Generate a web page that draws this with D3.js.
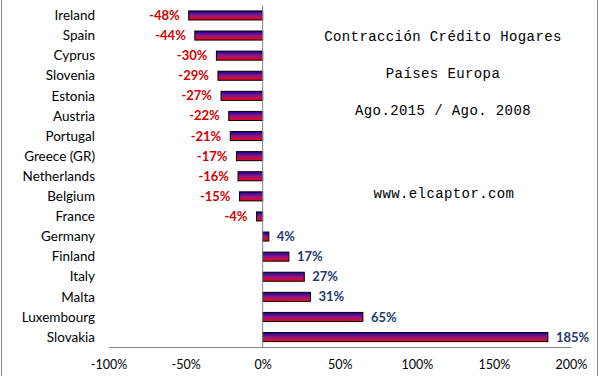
<html>
<head>
    <script src="https://d3js.org/d3.v7.min.js" charset="utf-8"></script>
</head>
<body style="margin:0">
    <script type="text/javascript">
        var width = 600;
        var height = 376;

        // Data
        var countries = ["Ireland", "Spain", "Cyprus", "Slovenia", "Estonia", "Austria", "Portugal",
            "Greece (GR)", "Netherlands", "Belgium", "France", "Germany", "Finland", "Italy",
            "Malta", "Luxembourg", "Slovakia"];
        var changes = [-48, -44, -30, -29, -27, -22, -21, -17, -16, -15, -4, 4, 17, 27, 31, 65, 185];
        var xTicks = [-100, -50, 0, 50, 100, 150, 200];
        var titleLines = ["Contracción Crédito Hogares", "Países Europa", "Ago.2015 / Ago. 2008"];
        var source = "www.elcaptor.com";

        var data = countries.map((c, i) => ({ name: c, value: changes[i] }));

        var margin = { top: 5.5, right: 29, bottom: 29, left: 108.5 };

        const svg = d3.select("body").append("svg")
            .attr("width", width)
            .attr("height", height)
            .style("background", "#fff");

        // gradient fill for the bars: indigo on top, red at the bottom
        const grad = svg.append("defs").append("linearGradient")
            .attr("id", "barGrad")
            .attr("x1", 0).attr("y1", 0).attr("x2", 0).attr("y2", 1);
        grad.append("stop").attr("offset", "0%").attr("stop-color", "#1a0090");
        grad.append("stop").attr("offset", "50%").attr("stop-color", "#8a1a8a");
        grad.append("stop").attr("offset", "100%").attr("stop-color", "#ff0000");

        // chart frame edges
        svg.append("line").attr("x1", 1.5).attr("x2", 1.5).attr("y1", 0).attr("y2", height)
            .attr("stroke", "#8c8c8c");
        svg.append("line").attr("x1", 597.5).attr("x2", 597.5).attr("y1", 0).attr("y2", height)
            .attr("stroke", "#8c8c8c");

        const xScale = d3.scaleLinear()
            .domain([-100, 200])
            .range([margin.left, width - margin.right]);

        const yScale = d3.scaleBand()
            .domain(countries)
            .range([margin.top, height - margin.bottom])
            .paddingInner(0.55)
            .paddingOuter(0.27);

        const g = svg.append("g").style("font-family", "Lato, 'Open Sans', sans-serif");

        // bars
        g.selectAll("rect.bar")
            .data(data)
            .join("rect")
            .attr("class", "bar")
            .attr("x", d => xScale(Math.min(0, d.value)))
            .attr("y", d => yScale(d.name))
            .attr("width", d => Math.abs(xScale(d.value) - xScale(0)))
            .attr("height", yScale.bandwidth())
            .attr("fill", "url(#barGrad)")
            .attr("stroke", "#000")
            .attr("stroke-width", 1);

        // zero line
        g.append("line")
            .attr("x1", xScale(0)).attr("x2", xScale(0))
            .attr("y1", margin.top).attr("y2", height - margin.bottom)
            .attr("stroke", "#868686");

        // x axis
        const xAxis = g.append("g")
            .attr("transform", `translate(0,${height - margin.bottom})`)
            .call(d3.axisBottom(xScale).tickValues(xTicks).tickSize(0).tickPadding(13)
                .tickFormat(d => d + "%"));
        xAxis.select(".domain").attr("stroke", "#868686");
        xAxis.selectAll("text").style("font-family", "Lato, 'Open Sans', sans-serif")
            .style("font-size", "12.5px").attr("fill", "#000");

        // category labels
        g.selectAll("text.cat")
            .data(data)
            .join("text")
            .attr("class", "cat")
            .attr("x", 95)
            .attr("y", d => yScale(d.name) + yScale.bandwidth() / 2)
            .attr("dy", "0.35em")
            .attr("text-anchor", "end")
            .style("font-size", "13.5px")
            .attr("fill", "#000")
            .text(d => d.name);

        // value labels
        g.selectAll("text.val")
            .data(data)
            .join("text")
            .attr("class", "val")
            .attr("x", d => d.value < 0 ? xScale(d.value) - 9 : xScale(d.value) + 8)
            .attr("y", d => yScale(d.name) + yScale.bandwidth() / 2)
            .attr("dy", "0.35em")
            .attr("text-anchor", d => d.value < 0 ? "end" : "start")
            .style("font-size", "13px")
            .style("font-weight", "bold")
            .attr("fill", d => d.value < 0 ? "#d40000" : "#1f3a6e")
            .text(d => d.value + "%");

        // title block
        const mono = "'Liberation Mono', 'DejaVu Sans Mono', monospace";
        g.selectAll("text.title")
            .data(titleLines)
            .join("text")
            .attr("class", "title")
            .attr("x", 443)
            .attr("y", (d, i) => 36 + i * 37)
            .attr("dy", "0.35em")
            .attr("text-anchor", "middle")
            .style("font-family", mono)
            .style("font-size", "14px")
            .style("letter-spacing", "0.4px")
            .attr("fill", "#000")
            .text(d => d);

        g.append("text")
            .attr("x", 444)
            .attr("y", 193)
            .attr("dy", "0.35em")
            .attr("text-anchor", "middle")
            .style("font-family", mono)
            .style("font-size", "14px")
            .style("letter-spacing", "0.4px")
            .attr("fill", "#000")
            .text(source);
    </script>
</body>

</html>
